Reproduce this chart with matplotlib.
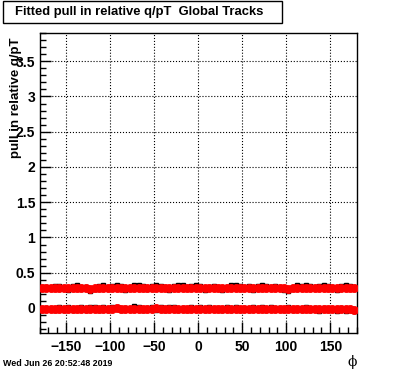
import numpy as np
import matplotlib
matplotlib.use("Agg")
import matplotlib.pyplot as plt
from matplotlib.patches import Rectangle
from matplotlib.ticker import MultipleLocator, FuncFormatter

plt.rcParams['font.family'] = ['Liberation Sans', 'DejaVu Sans']

# phi bin centres (5 degree bins)
phi = np.arange(-177.5, 180, 5.0)

# upper band: global tracks, fitted pull (red) and reference (black)
red_hi = [0.283, 0.281, 0.279, 0.284, 0.282, 0.280, 0.278, 0.283, 0.285, 0.281,
          0.279, 0.276, 0.278, 0.282, 0.284, 0.280, 0.283, 0.286, 0.282, 0.279,
          0.281, 0.284, 0.287, 0.283, 0.279, 0.282, 0.285, 0.283, 0.280, 0.278,
          0.282, 0.286, 0.284, 0.281, 0.283, 0.285, 0.282, 0.279, 0.281, 0.284,
          0.280, 0.277, 0.281, 0.285, 0.287, 0.283, 0.280, 0.282, 0.279, 0.283,
          0.286, 0.282, 0.280, 0.284, 0.281, 0.278, 0.276, 0.280, 0.284, 0.282,
          0.285, 0.283, 0.280, 0.282, 0.286, 0.284, 0.281, 0.279, 0.283, 0.285,
          0.282, 0.280]
black_hi = [0.300, 0.296, 0.288, 0.318, 0.305, 0.290, 0.250, 0.312, 0.322, 0.300,
            0.292, 0.245, 0.268, 0.310, 0.325, 0.296, 0.315, 0.328, 0.305, 0.255,
            0.300, 0.320, 0.330, 0.312, 0.262, 0.305, 0.326, 0.318, 0.300, 0.250,
            0.308, 0.328, 0.322, 0.298, 0.315, 0.325, 0.306, 0.252, 0.300, 0.318,
            0.298, 0.248, 0.302, 0.324, 0.330, 0.316, 0.300, 0.306, 0.258, 0.312,
            0.326, 0.306, 0.296, 0.318, 0.300, 0.252, 0.246, 0.298, 0.320, 0.308,
            0.325, 0.315, 0.296, 0.306, 0.328, 0.318, 0.300, 0.260, 0.312, 0.324,
            0.306, 0.296]

# lower band
red_lo = [-0.018, -0.015, -0.012, -0.016, -0.020, -0.017, -0.013, -0.010, -0.014, -0.018,
          -0.016, -0.011, -0.008, -0.012, -0.015, -0.013, -0.009, -0.006, -0.010, -0.014,
          -0.012, -0.008, -0.011, -0.015, -0.013, -0.009, -0.007, -0.011, -0.014, -0.010,
          -0.008, -0.012, -0.016, -0.013, -0.010, -0.012, -0.015, -0.011, -0.008, -0.010,
          -0.013, -0.016, -0.012, -0.009, -0.011, -0.014, -0.017, -0.013, -0.010, -0.012,
          -0.015, -0.012, -0.009, -0.011, -0.014, -0.012, -0.010, -0.013, -0.016, -0.014,
          -0.011, -0.013, -0.016, -0.018, -0.015, -0.012, -0.014, -0.017, -0.019, -0.016,
          -0.020, -0.022]
black_lo = [-0.030, 0.005, -0.020, -0.035, 0.010, -0.025, 0.012, -0.030, -0.005, 0.015,
            -0.032, 0.010, 0.018, -0.025, 0.008, -0.030, 0.020, 0.015, -0.028, 0.005,
            -0.020, 0.022, 0.010, -0.035, 0.006, 0.018, -0.022, 0.012, -0.030, 0.015,
            0.010, -0.025, 0.005, -0.033, 0.012, -0.018, 0.008, -0.028, 0.016, -0.020,
            0.006, -0.035, 0.010, -0.022, 0.012, -0.030, 0.004, -0.026, 0.014, -0.020,
            0.008, -0.032, 0.012, -0.018, 0.006, -0.030, 0.010, -0.024, 0.004, -0.035,
            0.008, -0.028, 0.002, -0.038, 0.005, -0.030, -0.010, -0.036, 0.000, -0.040,
            -0.030, -0.042]

fig = plt.figure(figsize=(3.96, 3.72), dpi=100)
ax = fig.add_axes([39.5 / 396, 1 - 333 / 372, 317.2 / 396, 300 / 372])

half = 2.5
for yb in (black_hi, black_lo):
    ax.errorbar(phi, yb, xerr=half, fmt='s', color='black', ms=2.5,
                elinewidth=1.6, capsize=0, zorder=2)
for yr in (red_hi, red_lo):
    ax.plot(phi, yr, 'o', color='red', ms=5.8, mec='red', mew=0.6, zorder=3)

ax.set_xlim(-180, 180)
ax.set_ylim(-0.355, 3.9)

ax.xaxis.set_major_locator(MultipleLocator(50))
ax.xaxis.set_minor_locator(MultipleLocator(10))
ax.yaxis.set_major_locator(MultipleLocator(0.5))
ax.yaxis.set_minor_locator(MultipleLocator(0.1))
ax.yaxis.set_major_formatter(FuncFormatter(lambda v, p: '%g' % v))
ax.tick_params(which='both', direction='in', top=False, right=False,
               labelsize=10)
ax.tick_params(which='major', length=8, width=1)
ax.tick_params(which='minor', length=4, width=1)
ax.tick_params(axis='x', pad=5)
ax.tick_params(axis='y', pad=3)
for lab in ax.get_xticklabels() + ax.get_yticklabels():
    lab.set_fontweight('bold')
for s in ax.spines.values():
    s.set_linewidth(1)

ax.grid(True, which='major', linestyle=':', color='black', linewidth=0.8)

# title box
fig.add_artist(Rectangle((3 / 396, 1 - 23 / 372), 279 / 396, 22 / 372,
                         transform=fig.transFigure, fill=True, facecolor='white',
                         edgecolor='black', linewidth=1))
fig.text(139 / 396, 1 - 12 / 372, 'Fitted pull in relative q/pT  Global Tracks',
         ha='center', va='center', fontsize=9.4, fontweight='bold')

fig.text(16 / 396, 1 - 37 / 372, 'pull in relative q/pT', rotation=90,
         ha='center', va='top', fontsize=9.5, fontweight='bold')
fig.text(352 / 396, 1 - 362 / 372, '\u03d5', ha='center', va='center',
         fontsize=10, family=['DejaVu Serif'])
fig.text(3 / 396, 1 - 364 / 372, 'Wed Jun 26 20:52:48 2019', ha='left',
         va='center', fontsize=6.4, fontweight='bold')

fig.savefig('out.png', dpi=100)
